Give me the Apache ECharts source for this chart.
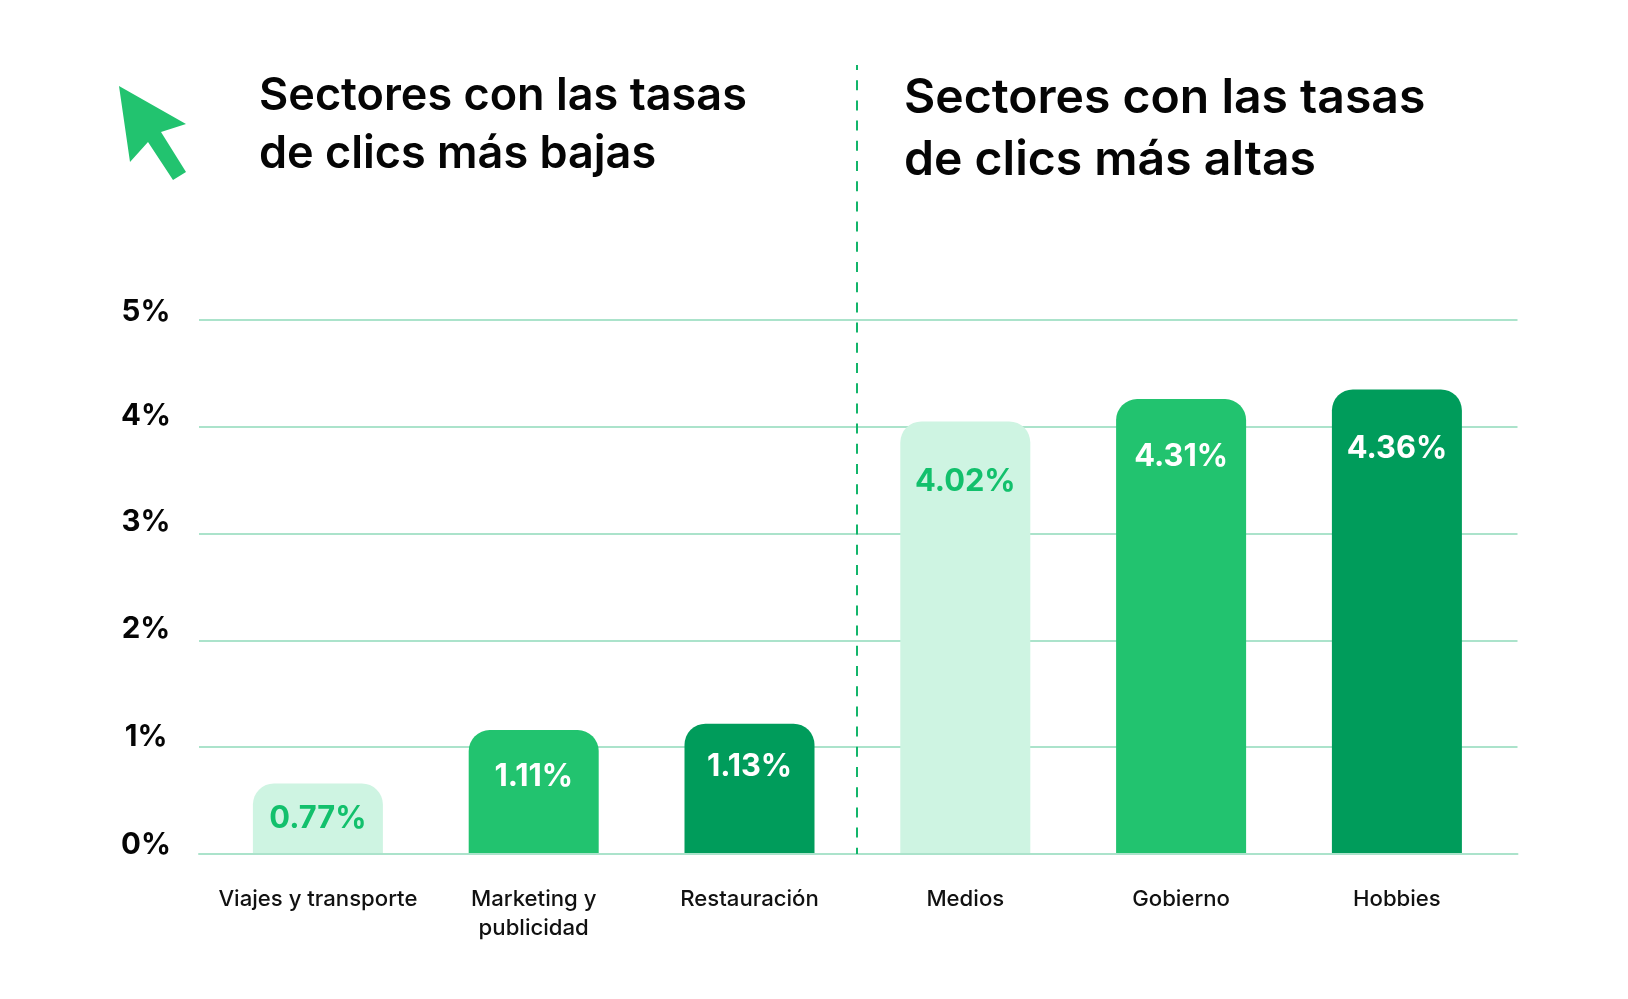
<!DOCTYPE html>
<html>
<head>
<meta charset="utf-8">
<style>
  html, body { margin: 0; padding: 0; background: #fff; }
  #chart { width: 1628px; height: 999px; }
</style>
<script src="https://cdn.jsdelivr.net/npm/echarts@6/dist/echarts.min.js"></script>
</head>
<body>
<div id="chart"></div>
<script>
const categories = ["Viajes y transporte", "Marketing y\npublicidad", "Restauración", "Medios", "Gobierno", "Hobbies"];
// bar heights as drawn in the picture; the printed labels differ a little from them
const barValues = [0.66, 1.16, 1.22, 4.05, 4.26, 4.35];
const printedValues = ["0.77%", "1.11%", "1.13%", "4.02%", "4.31%", "4.36%"];
const titleLow = "Sectores con las tasas\nde clics más bajas";
const titleHigh = "Sectores con las tasas\nde clics más altas";

const barColors = ["#CEF4E2", "#22C36F", "#009C5B", "#CEF4E2", "#22C36F", "#009C5B"];
const labelColors = ["#12C06C", "#fff", "#fff", "#12C06C", "#fff", "#fff"];
const labelGaps = [20, 31, 28, 45, 42, 44];
// tick labels do not sit evenly above their lines in the original
const tickLabelHeights = { 0: 18, 1: 21, 2: 22, 3: 22, 4: 22, 5: 15 };

const FONT = "Inter";
const GRID_TOP = 320;
const GRID_BOTTOM = 145;

const chart = echarts.init(document.getElementById("chart"));

const tickRich = {};
Object.keys(tickLabelHeights).forEach((k) => {
  tickRich["t" + k] = {
    fontFamily: FONT,
    fontSize: 29.5,
    fontWeight: 700,
    color: "#050505",
    lineHeight: tickLabelHeights[k],
  };
});

chart.setOption({
  animation: false,
  backgroundColor: "#fff",
  textStyle: { fontFamily: FONT },
  title: [
    {
      text: titleLow,
      left: 254,
      top: 62.5,
      textStyle: { fontFamily: FONT, fontSize: 45, fontWeight: 600, color: "#050505", lineHeight: 58 },
    },
    {
      text: titleHigh,
      left: 899,
      top: 62.5,
      textStyle: { fontFamily: FONT, fontSize: 48.1, fontWeight: 600, color: "#050505", lineHeight: 62 },
    },
  ],
  grid: [
    // wide grid carries the gridlines, narrow one the bars
    { left: 199, right: 110.5, top: GRID_TOP, bottom: GRID_BOTTOM },
    { left: 210, right: 123.2, top: GRID_TOP, bottom: GRID_BOTTOM },
  ],
  xAxis: [
    {
      type: "category",
      gridIndex: 0,
      data: categories,
      z: 3,
      axisLine: { show: true, lineStyle: { color: "#ABE3CB", width: 2 } },
      axisTick: { show: false },
      axisLabel: { show: false },
    },
    {
      type: "category",
      gridIndex: 1,
      data: categories,
      axisLine: { show: false },
      axisTick: { show: false },
      axisLabel: {
        margin: 31,
        fontFamily: FONT,
        fontSize: 22.15,
        fontWeight: 500,
        lineHeight: 29,
        color: "#111",
        interval: 0,
      },
    },
  ],
  yAxis: [
    {
      type: "value",
      gridIndex: 0,
      min: 0,
      max: 5,
      interval: 1,
      axisLine: { show: false },
      axisTick: { show: false },
      splitLine: { lineStyle: { color: "#ABE3CB", width: 2 } },
      axisLabel: {
        formatter: (v) => `{t${v}|${v}%}`,
        rich: tickRich,
        margin: 53,
        align: "center",
        verticalAlign: "bottom",
      },
    },
    {
      type: "value",
      gridIndex: 1,
      min: 0,
      max: 5,
      interval: 1,
      show: false,
    },
  ],
  series: [
    {
      type: "bar",
      xAxisIndex: 1,
      yAxisIndex: 1,
      barWidth: 130,
      data: barValues.map((v, i) => ({
        value: v,
        itemStyle: { color: barColors[i], borderRadius: [21, 21, 0, 0] },
        label: {
          show: true,
          position: "insideTop",
          distance: labelGaps[i],
          formatter: printedValues[i],
          fontFamily: FONT,
          fontSize: 30.8,
          fontWeight: 700,
          color: labelColors[i],
        },
      })),
    },
  ],
  graphic: [
    {
      type: "line",
      z: 5,
      shape: { x1: 857, y1: 65, x2: 857, y2: 854 },
      style: { stroke: "#12B56A", lineWidth: 2, lineDash: [10, 10.2], lineDashOffset: 5 },
    },
    {
      type: "polygon",
      shape: {
        points: [[119, 86], [186, 124], [161, 132], [186, 172], [173, 180], [148, 142], [130, 162]],
      },
      style: { fill: "#22C36F" },
    },
  ],
});

window.addEventListener("resize", () => chart.resize());
</script>
</body>
</html>
